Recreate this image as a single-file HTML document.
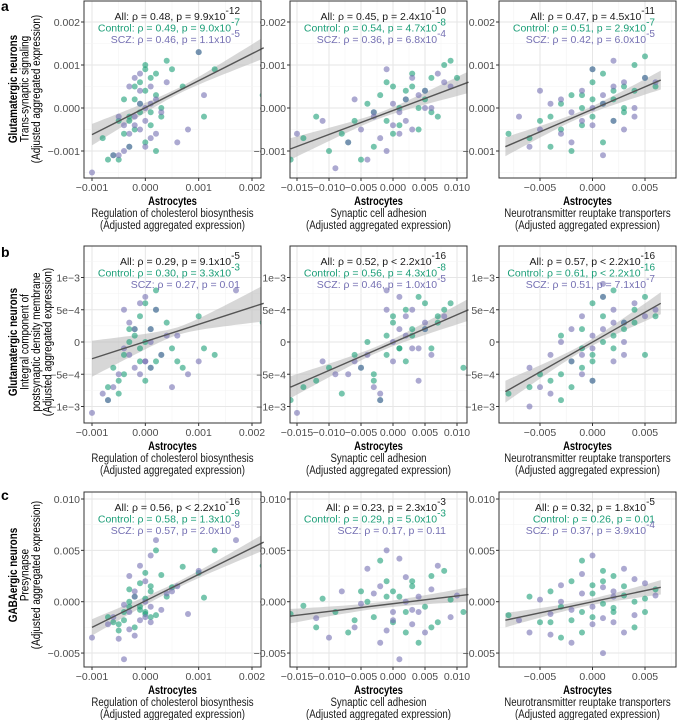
<!DOCTYPE html>
<html><head><meta charset="utf-8"><style>
html,body{margin:0;padding:0;background:#fff;}
svg{display:block;font-family:"Liberation Sans",sans-serif;}
</style></head><body>
<svg id="fig" width="677" height="720" viewBox="0 0 677 720" xmlns="http://www.w3.org/2000/svg"></svg>
<script>
// ---- data (x/y in scaled units; see xUnit / yUnit) ----
const xUnit = [1e-4, 1e-3, 1e-3];
const yUnit = [1e-4, 1e-4, 1e-3];
const colXLabels = ["Regulation of cholesterol biosynthesis","Synaptic cell adhesion","Neurotransmitter reuptake transporters"];
const xTicks = [[-0.001,0,0.001,0.002],[-0.015,-0.010,-0.005,0,0.005,0.010],[-0.005,0,0.005]];
const xTickLabels = [["−0.001","0.000","0.001","0.002"],["−0.015","−0.010","−0.005","0.000","0.005","0.010"],["−0.005","0.000","0.005"]];
const yTicks = [[-0.001,0,0.001,0.002],[-1e-3,-5e-4,0,5e-4,1e-3],[-0.005,0,0.005,0.010]];
const yTickLabels = [["−0.001","0.000","0.001","0.002"],["−1e−3","−5e−4","0","5e−4","1e−3"],["−0.005","0.000","0.005","0.010"]];
// regression lines: [x0,y0,x1,y1] per panel (row-major)
const fitLines = [
 [-0.001,-0.00062,0.00222,0.0014],[-0.016,-0.00095,0.0118,0.0006],[-0.0083,-0.0009,0.0065,0.00065],
 [-0.001,-0.00026,0.00222,0.0006],[-0.016,-0.0007,0.0118,0.0005],[-0.0083,-0.00077,0.0065,0.0006],
 [-0.001,-0.0025,0.00222,0.0058],[-0.016,-0.0014,0.0118,0.0007],[-0.0083,-0.0018,0.0065,0.0014]];
// confidence band half-width at center and at ends (data units)
const bandHalf = [
 [0.00007,0.00025],[0.00007,0.00025],[0.00007,0.00022],
 [0.00006,0.00028],[0.00005,0.00017],[0.00005,0.00017],
 [0.0003,0.0008],[0.0003,0.0007],[0.0003,0.0007]];
const stats = [
 [["0.48","9.9x10","-12"],["0.49","9.0x10","-7"],["0.46","1.1x10","-5"]],
 [["0.45","2.4x10","-10"],["0.54","4.7x10","-8"],["0.36","6.8x10","-4"]],
 [["0.47","4.5x10","-11"],["0.51","2.9x10","-7"],["0.42","6.0x10","-5"]],
 [["0.29","9.1x10","-5"],["0.30","3.3x10","-3"],["0.27","0.01",""]],
 [["0.52","< 2.2x10","-16"],["0.56","4.3x10","-8"],["0.46","1.0x10","-5"]],
 [["0.57","< 2.2x10","-16"],["0.61","< 2.2x10","-16"],["0.51","7.1x10","-7"]],
 [["0.56","< 2.2x10","-16"],["0.58","1.3x10","-9"],["0.57","2.0x10","-8"]],
 [["0.23","2.3x10","-3"],["0.29","5.0x10","-3"],["0.17","0.11",""]],
 [["0.32","1.8x10","-5"],["0.26","0.01",""],["0.37","3.9x10","-4"]]];
const ctrlX = [
 [-7,-6,-5,-4,-3,-2,-1,0,0,1,2,3,4,5,7,10,11,13,22,-3,-1,1,2,-5,-2,0,3,-8,-4,-2,0,1,-1,-3,2],
 [-16,-14,-12,-10,-8,-6,-4,-2,0,1,2,3,5,6,8,9,-3,-1,4,7,-5,2,0,10,-3,1,3,5,-1,6,-7,4],
 [-8,-6,-5,-4,-3,-2,-1,0,0,1,2,3,4,5,-3,-1,1,2,3,5,6,-2,0,-4,2,1,-1,4,0,3],
 [-7,-7,-6,-5,-4,-3,-2,-1,0,1,2,3,4,5,7,10,11,13,22,-3,0,2,6,-5,-1,1,-2,0,-4,2,-1],
 [-16,-14,-12,-10,-8,-6,-5,-3,-1,0,1,2,3,5,6,7,8,9,-2,2,4,-4,11,0,-1,3,5,1,-3,7],
 [-8,-6,-5,-4,-3,-2,-1,0,0,1,1,2,3,4,5,5,-3,-1,2,3,-2,0,6,1,-1,2,4,0,-3],
 [-7,-6,-5,-4,-3,-2,-1,0,0,1,2,3,4,5,7,10,11,13,22,-3,-1,1,2,0,-5,-2,-1,0,1,-4,-3],
 [-16,-14,-12,-11,-9,-7,-5,-3,-1,0,1,2,3,5,6,7,8,9,11,-2,4,-6,-4,0,2,6,-1,3],
 [-8,-6,-5,-4,-3,-2,-1,0,0,1,2,3,4,5,6,-3,-1,1,2,-2,3,5,-4,0,2,4,1,-1]];
const ctrlY = [
 [-12,-11,-12,-6,-3,5,-1,10,-8,7,3,-2,11,9,5,13,-2,9,3,-9,6,-4,-10,-3,2,9,0,-7,2,-5,4,-1,1,-2,8],
 [-12,-7,-2,-10,-6,-3,1,3,5,-4,4,8,2,-1,10,11,-9,6,0,-2,-12,2,-6,7,-1,0,5,4,-3,7,-8,-5],
 [-6,-7,-3,-9,1,3,-4,6,-2,8,2,5,10,12,-5,0,-8,4,-1,7,5,-10,2,-2,-3,1,3,4,9,0],
 [-9,-7,-4,-6,-5,0,1,-3,6,2,8,-2,3,-1,-4,4,-1,-2,3,2,-6,5,-3,-8,4,-4,2,0,-2,-3,-1],
 [-9,-7,-6,-4,-8,-2,-4,-6,1,4,-1,5,2,6,-1,3,5,6,-9,-3,7,0,-4,3,-2,1,2,-1,-5,4],
 [-8,-7,-5,-6,1,-3,2,6,-2,7,4,8,3,5,7,-2,-9,-4,-1,2,-7,-6,4,0,-1,1,3,-3,-5],
 [-1.5,-2,-2.8,-1,0,-2.5,1.8,2.8,-1.2,1,5,2.6,0.5,1.4,3.4,2.8,0.4,5,3.5,1.2,-0.8,-1.5,-1.3,0.3,-2.2,0.5,-0.5,-1,1.5,-1.8,-0.5],
 [-1.2,-0.4,-2.5,0.3,-1,-3,1,-1.5,2,-2,0.5,-3,1.5,-0.5,2.5,-2,3,0.2,-1,4,-4,-1.8,0,1,-1,-2.5,0.5,2],
 [-1.3,0.5,-2,1,-0.5,2,-3,0.8,-1.5,3,-1,1.5,-2.5,0.3,1.2,-3.5,4,-0.2,2.5,-1.8,0.6,-1,-2,1.6,-0.6,0,2,-1]];
const sczX = [
 [-10,-6,-5,-4,-4,-3,-2,-1,-1,0,1,2,3,6,8,11,-3,-2,0,1,4,-5,-1,2,10,-3,-1,0,1,-2],
 [-15,-11,-9,-7,-5,-3,-1,0,2,3,4,6,8,-6,-2,1,5,7,-4,3,-1,0,2,-3,5,1,9],
 [-7,-6,-5,-4,-3,-2,-1,0,1,2,3,4,5,6,-3,0,1,-2,4,2,3,-5,0,1,-1,2],
 [-10,-8,-7,-5,-4,-3,-2,-1,0,1,2,3,5,8,10,17,-4,-2,0,1,4,-6,6,-3,-1,0,1],
 [-15,-11,-9,-7,-6,-4,-3,-2,-1,0,1,2,3,4,5,6,8,-2,-1,1,3,5,0,2,4,-5],
 [-6,-6,-5,-4,-3,-2,-1,0,0,1,2,3,4,5,6,-2,-1,1,2,3,1,-4,0,-1,2,3],
 [-10,-7,-6,-5,-4,-3,-3,-2,-1,0,1,2,3,5,8,10,17,-2,0,1,-4,4,6,-1,-3,-2,0,1],
 [-12,-10,-8,-6,-4,-3,-2,-1,0,1,2,3,4,5,6,7,9,-1,1,3,10,-5,-2,0,4,2],
 [-7,-6,-5,-4,-3,-2,-1,0,1,2,3,4,5,6,-2,0,1,2,4,-4,3,-1,0,1,-3,2]];
const sczY = [
 [-15,-11,-11,-10,-4,5,-2,-5,4,0,-7,2,-1,-8,-5,3,-9,7,-3,1,6,-2,8,-6,13,-6,1,-9,5,-4],
 [-6,-3,-14,-8,-5,-2,-10,1,-3,7,3,0,6,2,-7,-1,4,8,-12,-5,9,-4,2,-1,0,-6,5],
 [-2,-9,-5,1,-6,-1,4,-4,3,-3,6,0,7,6,2,9,-11,-8,-2,11,-5,4,0,1,-3,5],
 [-11,-8,-9,-5,5,3,-4,6,-3,0,5,-2,-7,-5,-3,8,-1,2,7,-4,1,-7,1,-2,-5,-3,2],
 [-11,-3,-5,-5,-3,-2,-7,-8,8,-3,2,4,5,-6,3,-2,4,-9,5,7,-1,2,0,1,-1,-4],
 [-10,-4,-7,-2,0,-3,4,-1,-6,2,5,-2,6,4,5,2,-5,9,-3,0,7,-8,1,-2,3,3],
 [-3.5,-2.2,-1.5,-3.6,-0.3,-2.7,2.5,0.5,-1.8,-1.5,4.5,6,-0.8,1,-1.2,3,6,-3.3,2,-0.5,-5.6,0.8,1.5,3.5,-1,1,0,-2],
 [-1.6,-3.5,1,-2.5,3.2,0.8,-4,5,-1,-5.6,2.4,-2.2,0.5,-3,1.2,3.5,-1.5,-2.8,4.2,-0.8,0.6,-0.2,1.5,-1.8,-1,0],
 [-1.8,-3,0.2,-3.2,1.6,-0.8,2.7,-2.2,-5,0.5,3.2,-1.3,1.8,0.6,-4,4.5,-1.6,1,2.2,-1.2,-3,0.8,-0.5,1.4,0,-2]];

// ---- layout ----
const NS="http://www.w3.org/2000/svg";
const svg=document.getElementById('fig');
const colL=[84,290,499], colR=[261,467,676];
const rowT=[1,246,492], rowB=[178,423,667];
const xFns=[v=>92+(v+0.001)/0.003*160, v=>393+v*6400, v=>592.5+v*10500];
const yFns=[v=>108-v*43000, v=>342-v*64500, v=>601.7-v*10270];
const GREEN="#1b9e77", PURPLE="#7570b3";
function mk(tag,attrs,parent){const e=document.createElementNS(NS,tag);for(const k in attrs)e.setAttribute(k,attrs[k]);(parent||svg).appendChild(e);return e;}
function squeeze(t,f){const w=t.getComputedTextLength();t.setAttribute('textLength',(w*f).toFixed(1));t.setAttribute('lengthAdjust','spacingAndGlyphs');}

for(let r=0;r<3;r++){for(let c=0;c<3;c++){
 const i=r*3+c, X=xFns[c], Y=yFns[r], L=colL[c], R=colR[c], T=rowT[r], B=rowB[r];
 const g=mk('g',{});
 
 
 const clip=mk('clipPath',{id:'cp'+i},g); mk('rect',{x:L,y:T,width:R-L,height:B-T},clip);
 const xt=xTicks[c], yt=yTicks[r];
 const xstep=xt[1]-xt[0], ystep=yt[1]-yt[0];
 for(let k=-1;k<xt.length+1;k++){const v=xt[0]+k*xstep;
  mk('line',{x1:X(v+xstep/2),x2:X(v+xstep/2),y1:T,y2:B,stroke:'#f3f3f3','stroke-width':0.6,'clip-path':'url(#cp'+i+')'},g);
  mk('line',{x1:X(v),x2:X(v),y1:T,y2:B,stroke:'#e6e6e6','stroke-width':1,'clip-path':'url(#cp'+i+')'},g);}
 for(let k=-1;k<yt.length+1;k++){const v=yt[0]+k*ystep;
  mk('line',{y1:Y(v+ystep/2),y2:Y(v+ystep/2),x1:L,x2:R,stroke:'#f3f3f3','stroke-width':0.6,'clip-path':'url(#cp'+i+')'},g);
  mk('line',{y1:Y(v),y2:Y(v),x1:L,x2:R,stroke:'#e6e6e6','stroke-width':1,'clip-path':'url(#cp'+i+')'},g);}
 const f=fitLines[i], bh=bandHalf[i], xm=(f[0]+f[2])/2, half=(f[2]-f[0])/2;
 let up=[],lo=[];
 for(let s=0;s<=30;s++){const x=f[0]+(f[2]-f[0])*s/30, t=(x-xm)/half;
  const y=f[1]+(f[3]-f[1])*s/30, h=Math.sqrt(bh[0]*bh[0]+(bh[1]*bh[1]-bh[0]*bh[0])*t*t);
  up.push(X(x).toFixed(1)+','+Y(y+h).toFixed(1)); lo.unshift(X(x).toFixed(1)+','+Y(y-h).toFixed(1));}
 const band=mk('polygon',{points:up.concat(lo).join(' '),fill:'#bdbdbd','fill-opacity':0.6,'clip-path':'url(#cp'+i+')'},g);
 
 
 const groups=[[ctrlX[i],ctrlY[i],GREEN,'control-point'],[sczX[i],sczY[i],PURPLE,'scz-point']];
 for(const [xs,ys,col,nm] of groups){for(let k=0;k<xs.length;k++){
  const p=mk('circle',{cx:X(xs[k]*xUnit[c]).toFixed(1),cy:Y(ys[k]*yUnit[r]).toFixed(1),r:3,fill:col,'fill-opacity':0.6,'clip-path':'url(#cp'+i+')'},g);
  
  }}
 const ln=mk('line',{x1:X(f[0]),y1:Y(f[1]),x2:X(f[2]),y2:Y(f[3]),stroke:'#555','stroke-width':1.4},g);
 
 
 mk('rect',{x:L,y:T,width:R-L,height:B-T,fill:'none',stroke:'#333','stroke-width':1},g);
 xt.forEach((v,k)=>{mk('line',{x1:X(v),x2:X(v),y1:B,y2:B+3,stroke:'#333'},g);
  const t=mk('text',{x:X(v),y:B+13,'text-anchor':'middle','font-size':10.5,fill:'#4d4d4d'},g);t.textContent=xTickLabels[c][k];
  
  });
 yt.forEach((v,k)=>{mk('line',{x1:L-3,x2:L,y1:Y(v),y2:Y(v),stroke:'#333'},g);
  const t=mk('text',{x:L-4,y:Y(v)+4,'text-anchor':'end','font-size':10.5,fill:'#4d4d4d'},g);t.textContent=yTickLabels[r][k];
  
  });
 const names=['All','Control','SCZ'], cols=['#1a1a1a',GREEN,PURPLE];
 stats[i].forEach((s,k)=>{
  const t=mk('text',{x:R-21,y:T+19+k*11.5,'text-anchor':'end','font-size':10.5,fill:cols[k]},g);
  
  
  const op=s[1].startsWith('<')?'':'= ';
  t.appendChild(document.createTextNode(names[k]+': ρ = '+s[0]+', p '+op+s[1]));
  if(s[2]){const sp=mk('tspan',{dy:-6,'font-size':10},t);sp.textContent=s[2];}
 });
 const cx=(L+R)/2;
 const a=mk('text',{x:cx,y:B+27,'text-anchor':'middle','font-size':11.5,'font-weight':'bold',fill:'#000'},g);a.textContent='Astrocytes';
 
 
 squeeze(a,0.82);
 const b=mk('text',{x:cx,y:B+39,'text-anchor':'middle','font-size':11.5,fill:'#1a1a1a'},g);b.textContent=colXLabels[c];
 
 
 squeeze(b,0.84);
 const d=mk('text',{x:cx,y:B+51,'text-anchor':'middle','font-size':11.5,fill:'#1a1a1a'},g);d.textContent='(Adjusted aggregated expression)';
 
 
 squeeze(d,0.84);
}}
const rowTitles=[
 [["Glutamatergic neurons",true],["Trans-synaptic signaling",false],["(Adjusted aggregated expression)",false]],
 [["Glutamatergic neurons",true],["Integral component of",false],["postsynaptic density membrane",false],["(Adjusted aggregated expression)",false]],
 [["GABAergic neurons",true],["Presynapse",false],["(Adjusted aggregated expression)",false]]];
const rowCY=[89,342,575];
rowTitles.forEach((lines,r)=>{lines.forEach((ln,k)=>{
 const x=17+k*11.5;
 const t=mk('text',{x:x,y:rowCY[r],transform:'rotate(-90 '+x+' '+rowCY[r]+')','text-anchor':'middle','font-size':11.5,'font-weight':ln[1]?'bold':'normal',fill:'#000'});
 t.textContent=ln[0];
 
 
 squeeze(t,0.86);
});});
['a','b','c'].forEach((l,r)=>{const t=mk('text',{x:1,y:[11,257,500][r],'font-size':14,'font-weight':'bold',fill:'#000'});t.textContent=l;
 
 });
</script>
</body></html>
